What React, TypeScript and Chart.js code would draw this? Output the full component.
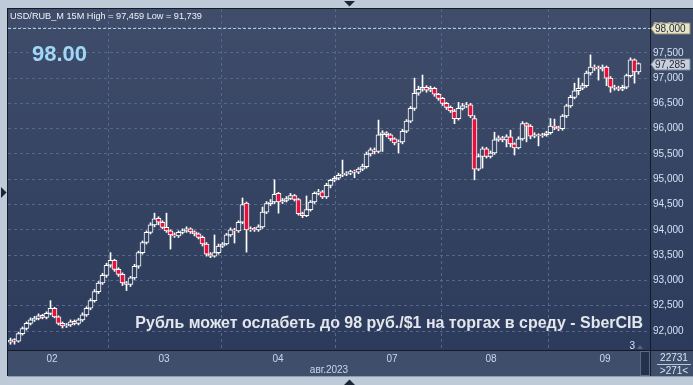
import React, { useEffect, useRef } from 'react';
import { Chart, registerables } from 'chart.js';

Chart.register(...registerables);

// ---- data ----
const opens = [
  91.78, 91.83, 91.80, 91.95, 92.05, 92.15, 92.22, 92.25, 92.31, 92.27,
  92.35, 92.45, 92.28, 92.15, 92.10, 92.12, 92.19, 92.15, 92.22, 92.32,
  92.45, 92.60, 92.78, 92.95, 93.10, 93.30, 93.40, 93.22, 93.12, 92.95,
  92.92, 93.05, 93.28, 93.55, 93.75, 93.95, 94.10, 94.23, 94.15, 94.05,
  93.98, 93.90, 93.88, 93.95, 93.98, 94.02, 93.96, 93.92, 93.85, 93.72,
  93.52, 93.48, 93.55, 93.68, 93.72, 93.90, 94.00, 93.98, 94.15, 94.53,
  94.00, 94.03, 94.00, 94.06, 94.35, 94.52, 94.55, 94.72, 94.55, 94.58,
  94.62, 94.68, 94.60, 94.32, 94.28, 94.40, 94.55, 94.72, 94.75, 94.65,
  94.88, 94.98, 95.02, 95.08, 95.10, 95.12, 95.16, 95.14, 95.20, 95.25,
  95.50, 95.58, 95.55, 95.88, 95.92, 95.88, 95.80, 95.72, 95.74, 95.95,
  96.15, 96.40, 96.70, 96.78, 96.82, 96.76, 96.80, 96.68, 96.60, 96.50,
  96.42, 96.35, 96.20, 96.40, 96.45, 96.47, 96.20, 95.20, 95.45, 95.60,
  95.45, 95.52, 95.78, 95.82, 95.78, 95.84, 95.70, 95.62, 95.80, 96.10,
  96.05, 95.85, 95.88, 95.86, 95.88, 95.92, 96.05, 96.02, 96.00, 96.25,
  96.45, 96.62, 96.75, 96.80, 96.85, 97.10, 97.22, 97.20, 97.18, 97.22,
  97.00, 96.82, 96.80, 96.78, 96.82, 97.05, 97.36, 97.12,
];
const highs = [
  91.86, 91.85, 91.98, 92.08, 92.18, 92.26, 92.29, 92.34, 92.33, 92.38,
  92.60, 92.47, 92.30, 92.18, 92.15, 92.22, 92.22, 92.25, 92.36, 92.48,
  92.64, 92.82, 92.98, 93.14, 93.34, 93.55, 93.42, 93.25, 93.15, 92.98,
  93.08, 93.32, 93.58, 93.78, 93.98, 94.14, 94.33, 94.26, 94.18, 94.33,
  94.00, 93.94, 93.98, 94.02, 94.06, 94.04, 93.98, 93.94, 93.88, 93.75,
  93.55, 93.90, 93.72, 93.75, 93.93, 94.04, 94.03, 94.18, 94.63, 94.55,
  94.06, 94.05, 94.10, 94.45, 94.56, 94.60, 94.99, 94.74, 94.62, 94.66,
  94.72, 94.70, 94.62, 94.35, 94.67, 94.58, 94.75, 94.80, 94.78, 94.92,
  95.00, 95.06, 95.12, 95.38, 95.15, 95.18, 95.18, 95.23, 95.30, 95.54,
  95.62, 95.62, 96.17, 95.96, 95.94, 95.90, 95.82, 95.78, 95.99, 96.18,
  96.44, 97.00, 96.84, 97.06, 96.85, 96.84, 96.82, 96.70, 96.62, 96.52,
  96.45, 96.38, 96.52, 96.50, 96.52, 96.50, 96.26, 95.50, 95.64, 95.63,
  95.56, 95.93, 95.86, 95.85, 95.88, 95.97, 95.72, 95.84, 96.14, 96.12,
  96.08, 95.92, 95.90, 95.91, 95.95, 96.20, 96.19, 96.05, 96.28, 96.48,
  96.66, 96.90, 97.00, 96.90, 97.14, 97.459, 97.26, 97.24, 97.26, 97.24,
  97.03, 96.86, 96.84, 96.86, 97.08, 97.40, 97.38, 97.30,
];
const lows = [
  91.739, 91.74, 91.78, 91.92, 92.02, 92.12, 92.19, 92.22, 92.24, 92.24,
  92.32, 92.26, 92.12, 92.06, 92.07, 92.09, 92.12, 92.12, 92.19, 92.29,
  92.42, 92.57, 92.74, 92.92, 93.06, 93.26, 93.18, 93.08, 92.90, 92.80,
  92.88, 93.02, 93.24, 93.52, 93.72, 93.92, 94.06, 94.10, 94.02, 93.95,
  93.62, 93.85, 93.85, 93.92, 93.95, 93.93, 93.88, 93.82, 93.68, 93.48,
  93.45, 93.46, 93.52, 93.65, 93.70, 93.87, 93.74, 93.95, 94.12, 93.56,
  93.97, 93.97, 93.97, 94.03, 94.32, 94.48, 94.52, 94.33, 94.52, 94.55,
  94.60, 94.57, 94.29, 94.24, 94.26, 94.37, 94.52, 94.69, 94.62, 94.62,
  94.83, 94.95, 94.99, 95.05, 95.07, 95.09, 95.03, 95.11, 95.17, 95.22,
  95.46, 95.50, 95.52, 95.55, 95.84, 95.76, 95.68, 95.52, 95.70, 95.92,
  96.12, 96.36, 96.66, 96.74, 96.72, 96.73, 96.64, 96.56, 96.46, 96.38,
  96.32, 96.10, 96.17, 96.37, 96.42, 96.22, 94.99, 95.17, 95.22, 95.42,
  95.42, 95.49, 95.75, 95.74, 95.64, 95.64, 95.48, 95.60, 95.77, 95.74,
  95.80, 95.82, 95.66, 95.83, 95.85, 95.89, 95.98, 95.96, 95.97, 96.22,
  96.42, 96.59, 96.67, 96.77, 96.82, 97.06, 97.15, 96.96, 97.14, 96.85,
  96.72, 96.76, 96.75, 96.75, 96.79, 97.02, 96.90, 97.08,
];
const closes = [
  91.82, 91.80, 91.95, 92.05, 92.15, 92.22, 92.25, 92.30, 92.27, 92.35,
  92.45, 92.28, 92.15, 92.10, 92.12, 92.18, 92.15, 92.22, 92.32, 92.45,
  92.60, 92.78, 92.95, 93.10, 93.30, 93.40, 93.22, 93.12, 92.95, 92.92,
  93.05, 93.28, 93.55, 93.75, 93.95, 94.10, 94.22, 94.15, 94.05, 93.98,
  93.90, 93.88, 93.95, 93.98, 94.02, 93.96, 93.92, 93.85, 93.72, 93.52,
  93.48, 93.55, 93.68, 93.72, 93.90, 94.00, 93.98, 94.15, 94.50, 94.00,
  94.02, 94.00, 94.06, 94.35, 94.52, 94.55, 94.70, 94.55, 94.58, 94.62,
  94.68, 94.60, 94.32, 94.28, 94.40, 94.55, 94.72, 94.75, 94.65, 94.88,
  94.98, 95.02, 95.08, 95.10, 95.12, 95.15, 95.14, 95.20, 95.25, 95.50,
  95.58, 95.55, 95.88, 95.92, 95.88, 95.80, 95.72, 95.74, 95.95, 96.15,
  96.40, 96.70, 96.78, 96.82, 96.76, 96.80, 96.68, 96.60, 96.50, 96.42,
  96.35, 96.20, 96.40, 96.45, 96.47, 96.25, 95.20, 95.45, 95.60, 95.45,
  95.52, 95.78, 95.82, 95.78, 95.84, 95.70, 95.62, 95.80, 96.10, 96.05,
  95.85, 95.88, 95.86, 95.88, 95.92, 96.05, 96.02, 96.00, 96.25, 96.45,
  96.62, 96.75, 96.80, 96.85, 97.10, 97.22, 97.20, 97.18, 97.22, 97.00,
  96.82, 96.80, 96.78, 96.82, 97.05, 97.36, 97.12, 97.285,
];

const dayLabels = ['02', '03', '04', '07', '08', '09'];
const dayBreaks = [10.375, 38.375, 66.875, 95.375, 120.125, 148.625];
const yTicks = [92, 92.5, 93, 93.5, 94, 94.5, 95, 95.5, 96, 96.5, 97, 97.5, 98];
const alertLevel = 98.0;
const lastPrice = 97.285;
const headerText = 'USD/RUB_M 15M High = 97,459 Low = 91,739';
const bigLabel = '98.00';
const caption = 'Рубль может ослабеть до 98 руб./$1 на торгах в среду - SberCIB';
const monthLabel = 'авг.2023';
const volumeLabel = '22731';
const barsLabel = '>271<';
const pageLabel = '3';

const FONT = "'Liberation Sans', Arial, sans-serif";
const RED = '#e3113b';
const GRID = '#56688a';
const BG_TOP = '#3f4d6a';
const BG_BOT = '#2c3b5b';

const fmt = (v: number) => v.toFixed(3).replace('.', ',');

function plotGradient(ctx: CanvasRenderingContext2D) {
  const g = ctx.createLinearGradient(0, 9, 0, 350);
  g.addColorStop(0, BG_TOP);
  g.addColorStop(1, BG_BOT);
  return g;
}

const framePlugin = {
  id: 'frame',
  beforeDraw(chart: any) {
    const ctx: CanvasRenderingContext2D = chart.ctx;
    ctx.save();
    ctx.fillStyle = '#bfcad9';
    ctx.fillRect(0, 0, 693, 385);
    ctx.fillStyle = plotGradient(ctx);
    ctx.fillRect(8, 8, 685, 343);
    ctx.fillStyle = '#3f4e6b';
    ctx.fillRect(8, 351, 685, 25);
    ctx.restore();
  },
  afterDraw(chart: any) {
    const ctx: CanvasRenderingContext2D = chart.ctx;
    const ca = chart.chartArea;
    const ys = chart.scales.y;
    ctx.save();
    // alert level dashed line
    const ay = Math.round(ys.getPixelForValue(alertLevel)) + 0.5;
    ctx.strokeStyle = '#a5cde2';
    ctx.lineWidth = 1;
    ctx.setLineDash([3, 2]);
    ctx.beginPath();
    ctx.moveTo(ca.left, ay);
    ctx.lineTo(ca.right, ay);
    ctx.stroke();
    ctx.setLineDash([]);

    // borders
    ctx.strokeStyle = '#141a26';
    ctx.beginPath();
    ctx.moveTo(7.5, 8);
    ctx.lineTo(7.5, 376);
    ctx.moveTo(7, 8.5);
    ctx.lineTo(693, 8.5);
    ctx.moveTo(8, 350.5);
    ctx.lineTo(693, 350.5);
    ctx.moveTo(650.5, 8);
    ctx.lineTo(650.5, 376);
    ctx.stroke();
    ctx.strokeStyle = '#8d9bb0';
    ctx.beginPath();
    ctx.moveTo(8, 376.5);
    ctx.lineTo(693, 376.5);
    ctx.stroke();

    // scroll box
    ctx.fillStyle = '#26324c';
    ctx.fillRect(641, 351, 9, 25);
    ctx.strokeStyle = '#5b6b86';
    ctx.strokeRect(640.5, 351.5, 9, 24);

    // label boxes on the price axis
    const box = (y: number, fill: string, stroke: string, text: string) => {
      ctx.beginPath();
      ctx.moveTo(651, y);
      ctx.lineTo(655, y - 5.5);
      ctx.lineTo(690, y - 5.5);
      ctx.lineTo(690, y + 5.5);
      ctx.lineTo(655, y + 5.5);
      ctx.closePath();
      ctx.fillStyle = fill;
      ctx.fill();
      ctx.strokeStyle = stroke;
      ctx.stroke();
      ctx.fillStyle = '#222a3a';
      ctx.font = `10px ${FONT}`;
      ctx.textAlign = 'left';
      ctx.textBaseline = 'middle';
      ctx.fillText(text, 655, y + 0.5);
    };
    box(Math.round(ys.getPixelForValue(alertLevel)) + 0.5, '#e7e4c7', '#8c8a70', fmt(alertLevel));
    box(Math.round(ys.getPixelForValue(lastPrice)) + 0.5, '#c8d0dc', '#7c879a', fmt(lastPrice));

    // header text
    ctx.textBaseline = 'alphabetic';
    ctx.textAlign = 'left';
    ctx.fillStyle = '#eef2f8';
    ctx.font = `11px ${FONT}`;
    const hw = ctx.measureText(headerText).width;
    const hs = (11 * 192) / hw;
    ctx.font = `${hs}px ${FONT}`;
    ctx.fillText(headerText, 10, 19);

    // big value
    ctx.fillStyle = '#a0d7f7';
    ctx.font = `bold 22px ${FONT}`;
    ctx.fillText(bigLabel, 32, 61);

    // caption
    ctx.font = `bold 16px ${FONT}`;
    const cw = ctx.measureText(caption).width;
    const cs = (16 * 508) / cw;
    ctx.font = `bold ${cs}px ${FONT}`;
    ctx.fillStyle = '#e3e6ec';
    ctx.textAlign = 'right';
    ctx.fillText(caption, 643, 328);

    // small "3" with marker
    ctx.font = `10px ${FONT}`;
    ctx.fillStyle = '#d0e4f8';
    ctx.textAlign = 'right';
    ctx.fillText(pageLabel, 635, 349);
    ctx.fillStyle = '#56657e';
    ctx.beginPath();
    ctx.moveTo(637, 349);
    ctx.lineTo(643, 349);
    ctx.lineTo(640, 345);
    ctx.closePath();
    ctx.fill();

    // month label
    ctx.fillStyle = '#c8d6ec';
    ctx.textAlign = 'center';
    ctx.fillText(monthLabel, 329, 373);

    // right-bottom info
    ctx.fillStyle = '#d8e4f4';
    ctx.fillText(volumeLabel, 674, 361);
    ctx.strokeStyle = '#b8c6dc';
    ctx.beginPath();
    ctx.moveTo(657, 364.5);
    ctx.lineTo(691, 364.5);
    ctx.stroke();
    ctx.fillText(barsLabel, 674, 374);

    // frame arrows
    ctx.fillStyle = '#1a2538';
    ctx.beginPath();
    ctx.moveTo(344, 1);
    ctx.lineTo(355, 1);
    ctx.lineTo(349.5, 6.5);
    ctx.closePath();
    ctx.fill();
    ctx.beginPath();
    ctx.moveTo(344, 385);
    ctx.lineTo(355, 385);
    ctx.lineTo(349.5, 379.5);
    ctx.closePath();
    ctx.fill();
    ctx.beginPath();
    ctx.moveTo(1, 187);
    ctx.lineTo(1, 198);
    ctx.lineTo(6.5, 192.5);
    ctx.closePath();
    ctx.fill();
    ctx.restore();
  },
};

export default function App() {
  const ref = useRef<HTMLCanvasElement | null>(null);

  useEffect(() => {
    document.body.style.margin = '0';
    const canvas = ref.current;
    if (!canvas) return;
    let grad: CanvasGradient | null = null;
    const chart = new Chart(canvas, {
      type: 'bar',
      data: {
        datasets: [
          {
            label: 'body',
            order: 0,
            data: closes.map((c, i) => ({ x: i, y: [opens[i], c] })) as any,
            barThickness: 5,
            minBarLength: 1,
            borderWidth: 1,
            borderColor: '#ffffff',
            borderSkipped: false,
            grouped: false,
            backgroundColor: (c: any) => {
              const i = c.dataIndex;
              if (i === undefined) return RED;
              if (closes[i] < opens[i]) return RED;
              if (!grad) grad = plotGradient(c.chart.ctx);
              return grad;
            },
          } as any,
          {
            label: 'wick',
            order: 1,
            data: closes.map((_, i) => ({ x: i, y: [lows[i], highs[i]] })) as any,
            barThickness: 1,
            borderWidth: 0,
            grouped: false,
            backgroundColor: '#ffffff',
          } as any,
        ],
      },
      options: {
        animation: false,
        responsive: false,
        maintainAspectRatio: false,
        events: [],
        layout: { padding: { left: 8, top: 9, right: 0, bottom: 9 } },
        plugins: { legend: { display: false }, tooltip: { enabled: false } },
        scales: {
          x: {
            type: 'linear',
            min: -0.625,
            max: 159.875,
            offset: false,
            afterBuildTicks: (s: any) => {
              s.ticks = dayBreaks.map((v) => ({ value: v }));
            },
            afterFit: (s: any) => {
              s.height = 26;
            },
            ticks: {
              autoSkip: false,
              maxRotation: 0,
              padding: 3,
              color: '#c8d8f0',
              font: { size: 10, family: FONT },
              callback: (_v: any, i: number) => dayLabels[i] ?? '',
            },
            grid: { color: GRID, drawTicks: false, lineWidth: 1 },
            border: { display: false, dash: [3, 3] },
          } as any,
          y: {
            type: 'linear',
            position: 'right',
            min: 91.625,
            max: 98.366,
            afterBuildTicks: (s: any) => {
              s.ticks = yTicks.map((v) => ({ value: v }));
            },
            afterFit: (s: any) => {
              s.width = 43;
            },
            ticks: {
              padding: 3,
              color: '#d2e2f5',
              font: { size: 10, family: FONT },
              callback: (v: any) => fmt(Number(v)),
            },
            grid: { color: GRID, drawTicks: false, lineWidth: 1 },
            border: { display: false, dash: [3, 3] },
          } as any,
        },
      },
      plugins: [framePlugin],
    });
    return () => chart.destroy();
  }, []);

  return (
    <div style={{ width: 693, height: 385 }}>
      <canvas ref={ref} width={693} height={385} style={{ display: 'block', width: 693, height: 385 }} />
    </div>
  );
}
